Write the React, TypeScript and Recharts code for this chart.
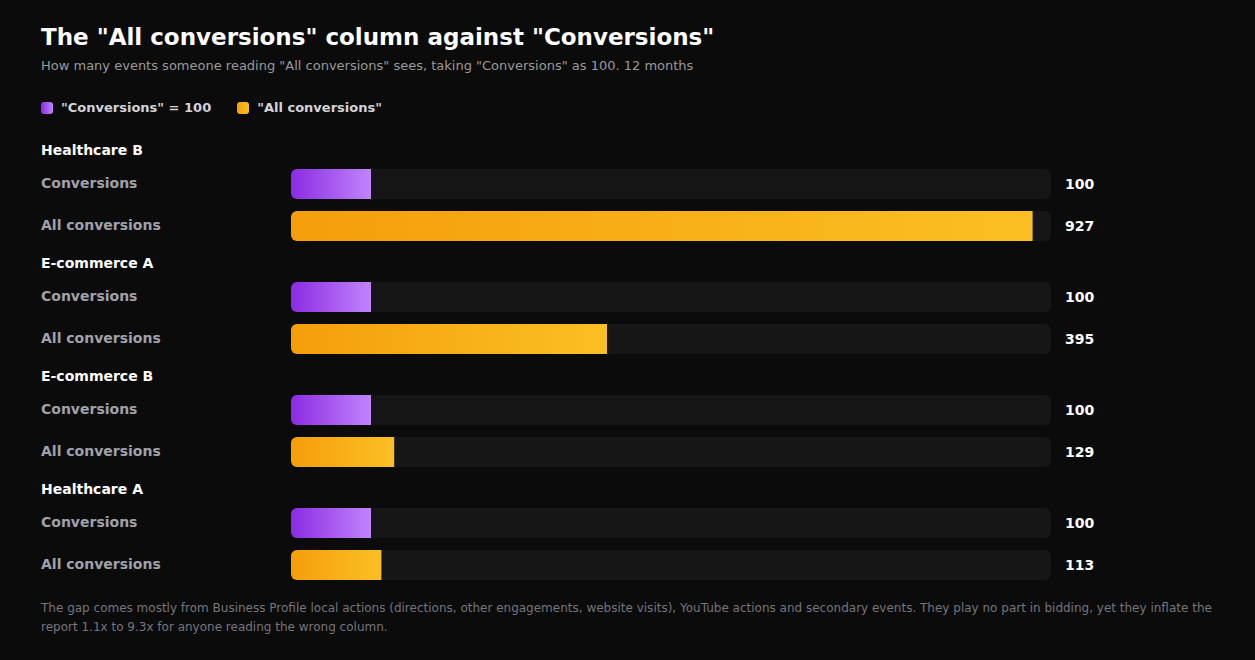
// Horizontal bar chart: "All conversions" against "Conversions" indexed to 100

import { BarChart, Bar, XAxis, YAxis, Cell, LabelList } from 'recharts';

const groups = ['Healthcare B', 'E-commerce A', 'E-commerce B', 'Healthcare A'];
const rowLabels = ['Conversions', 'All conversions'];
const conversions = [100, 100, 100, 100];
const allConversions = [927, 395, 129, 113];
const legendLabels = ['"Conversions" = 100', '"All conversions"'];

const FONT = '"DejaVu Sans", Verdana, sans-serif';
const AXIS_W = 250;
const PLOT_W = 760;
const RIGHT_M = 60;

function RowTick({ y, payload }: { y?: number; payload?: { value: string } }) {
  return (
    <text x={0} y={(y ?? 0) - 1} dominantBaseline="central" textAnchor="start"
      fill="#a1a1aa" fontSize={14} fontWeight={700} fontFamily={FONT}>
      {payload?.value}
    </text>
  );
}

function ValueLabel(props: any) {
  const { y, height, value } = props;
  return (
    <text x={AXIS_W + PLOT_W + 14} y={y + height / 2} dominantBaseline="central"
      fill="#ffffff" fontSize={14} fontWeight={700} fontFamily={FONT}>
      {value}
    </text>
  );
}

function GroupChart({ index }: { index: number }) {
  const rows = [
    { label: rowLabels[0], value: conversions[index] },
    { label: rowLabels[1], value: allConversions[index] },
  ];
  const purple = `purple-${index}`;
  const orange = `orange-${index}`;
  return (
    <BarChart layout="vertical" width={AXIS_W + PLOT_W + RIGHT_M} height={84} data={rows}
      margin={{ top: 0, right: RIGHT_M, left: 0, bottom: 0 }}>
      <defs>
        <linearGradient id={purple} x1="0" y1="0" x2="1" y2="0">
          <stop offset="0%" stopColor="#8b2be2" />
          <stop offset="100%" stopColor="#c084fc" />
        </linearGradient>
        <linearGradient id={orange} x1="0" y1="0" x2="1" y2="0">
          <stop offset="0%" stopColor="#f59e0b" />
          <stop offset="100%" stopColor="#fbbf24" />
        </linearGradient>
      </defs>
      <XAxis type="number" domain={[0, 950]} hide />
      <YAxis type="category" dataKey="label" width={AXIS_W} axisLine={false} tickLine={false}
        tick={<RowTick />} interval={0} />
      <Bar dataKey="value" barSize={30} radius={[6, 0, 0, 6]} isAnimationActive={false}
        background={{ fill: '#161616', radius: 6 }}>
        <Cell fill={`url(#${purple})`} />
        <Cell fill={`url(#${orange})`} />
        <LabelList dataKey="value" content={<ValueLabel />} />
      </Bar>
    </BarChart>
  );
}

export default function App() {
  return (
    <div style={{ position: 'relative', width: 1255, height: 660, background: '#0b0b0b', fontFamily: FONT, overflow: 'hidden' }}>
      <style>{'body{margin:0;background:#0b0b0b}'}</style>
      <div style={{ position: 'absolute', left: 41, top: 22, fontSize: 23, fontWeight: 700, color: '#ffffff', lineHeight: '30px' }}>
        The "All conversions" column against "Conversions"
      </div>
      <div style={{ position: 'absolute', left: 41, top: 57, fontSize: 13, color: '#9a9a9a', lineHeight: '18px' }}>
        How many events someone reading "All conversions" sees, taking "Conversions" as 100. 12 months
      </div>
      <div style={{ position: 'absolute', left: 41, top: 100, display: 'flex', alignItems: 'center', lineHeight: '16px' }}>
        {legendLabels.map((l, i) => (
          <div key={l} style={{ display: 'flex', alignItems: 'center', marginRight: 26 }}>
            <span style={{
              width: 12, height: 12, borderRadius: 3, marginRight: 8, display: 'inline-block',
              background: i === 0 ? 'linear-gradient(90deg,#8b2be2,#c084fc)' : 'linear-gradient(90deg,#f59e0b,#fbbf24)',
            }} />
            <span style={{ fontSize: 13, fontWeight: 700, color: '#d4d4d8' }}>{l}</span>
          </div>
        ))}
      </div>
      <div style={{ position: 'absolute', left: 41, top: 134 }}>
        {groups.map((g, i) => (
          <div key={g} style={{ height: 113 }}>
            <div style={{ height: 29, lineHeight: '32px', fontSize: 14, fontWeight: 700, color: '#ffffff' }}>{g}</div>
            <GroupChart index={i} />
          </div>
        ))}
      </div>
      <div style={{ position: 'absolute', left: 41, top: 599, width: 1185, fontSize: 12, lineHeight: '19px', color: '#75757c' }}>
        The gap comes mostly from Business Profile local actions (directions, other engagements, website visits), YouTube actions and secondary events. They play no part in bidding, yet they inflate the report 1.1x to 9.3x for anyone reading the wrong column.
      </div>
    </div>
  );
}
